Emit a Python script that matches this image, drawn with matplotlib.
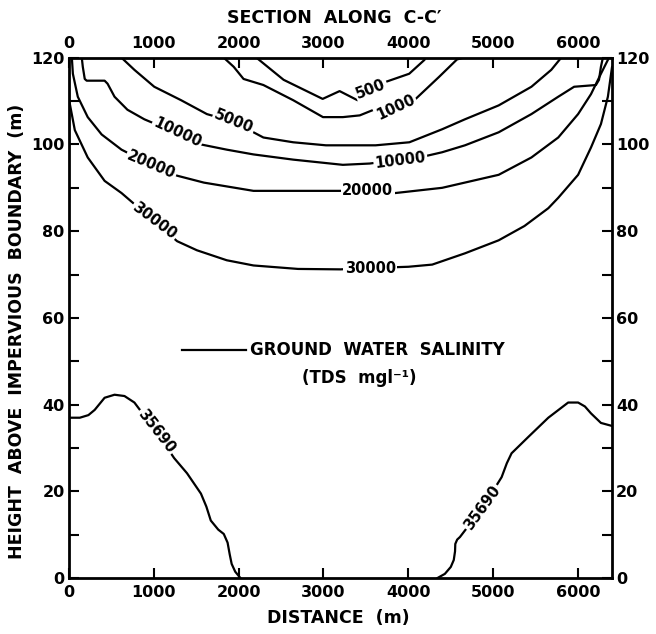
import matplotlib
matplotlib.use('Agg')
import matplotlib.pyplot as plt
from matplotlib.ticker import MultipleLocator

# salinity contours (TDS mg/l): distance along section (m) vs height (m)
c500_x = [2210, 2530, 2990, 3090, 3190, 3260, 3400, 3540, 3730, 4010, 4190, 4200]
c500_y = [120, 114.9, 110.5, 111.4, 112.3, 111.6, 110.2, 112.3, 114.4, 116.3, 119.5, 120]

c1000_x = [1825, 1942, 2058, 2292, 2643, 2994, 3228, 3427, 3579, 3850, 4070, 4363, 4573, 4650]
c1000_y = [120, 117.9, 115.1, 113.7, 110.2, 106.3, 106.3, 106.7, 107.9, 109.0, 110.2, 115.6, 119.6, 120]

c5000_x = [620, 772, 1006, 1322, 1626, 1942, 2292, 2643, 3029, 3614, 4012, 4398, 4667, 5064, 5450, 5684, 5801]
c5000_y = [120, 117.2, 113.3, 110.2, 107, 105.2, 101.6, 100.5, 99.8, 99.8, 100.5, 103.5, 105.8, 109, 113.3, 117.2, 120]

c10000_x = [152, 164, 187, 210, 421, 456, 538, 690, 889, 1275, 1556, 1860, 2175, 2643, 3228, 3544, 3906,
            4199, 4398, 4667, 5064, 5450, 5766, 5953, 6210, 6246, 6269, 6292]
c10000_y = [120, 117.9, 115.1, 114.7, 114.7, 114, 111, 108, 105.8, 102.6, 100, 98.8, 97.7, 96.5, 95.3, 95.6, 96.5,
            97.3, 98.2, 99.8, 102.8, 107, 111, 113.3, 113.7, 114.9, 117.9, 120]

c20000_x = [35, 47, 105, 222, 386, 620, 970, 1275, 1591, 2175, 3146, 3520, 3848, 4398, 5064, 5450, 5766,
            6000, 6152, 6269, 6351, 6360]
c20000_y = [120, 116.3, 111, 106.3, 102.3, 98.8, 95.3, 92.8, 91.2, 89.3, 89.3, 89.3, 88.8, 90, 93, 97, 101.6,
            107, 111.6, 116.3, 119.5, 120]

c30000_x = [0, 70, 222, 421, 620, 1006, 1275, 1509, 1860, 2175, 2700, 3200, 3550, 4000, 4281, 4667, 5064,
            5368, 5649, 5766, 6000, 6152, 6269, 6351, 6400]
c30000_y = [110.5, 103.3, 97, 91.6, 88.8, 82.3, 77.7, 75.6, 73.3, 72.1, 71.3, 71.2, 71.5, 71.8, 72.3, 74.9, 77.9,
            81.2, 85.3, 87.7, 93, 99.3, 104.7, 111, 117.9]

c35690_left_x = [0, 129, 230, 304, 421, 538, 655, 772, 1029, 1240, 1392, 1556, 1620, 1672, 1760, 1825, 1870,
                 1895, 1918, 1960, 2023]
c35690_left_y = [37, 37, 37.6, 38.8, 41.6, 42.3, 42, 40.5, 33.8, 27.7, 24.2, 19.5, 16.5, 13.3, 11.2, 10.2, 8.2,
                 5.5, 3.3, 1.5, 0]

c35690_right_x = [4339, 4430, 4500, 4535, 4550, 4553, 4575, 4608, 4889, 5099, 5160, 5216, 5415, 5649, 5883,
                  6000, 6080, 6152, 6269, 6400]
c35690_right_y = [0, 1.0, 2.6, 4.2, 6.2, 7.9, 8.9, 9.5, 16.7, 23.3, 26.5, 28.8, 32.6, 37, 40.5,
                  40.5, 39.6, 38, 35.8, 35.1]

x_ticks = [0, 1000, 2000, 3000, 4000, 5000, 6000]
y_ticks = [0, 20, 40, 60, 80, 100, 120]

plt.rcParams['font.family'] = ['DejaVu Sans']
plt.rcParams['font.weight'] = 'bold'

fig = plt.figure(figsize=(6.56, 6.34), dpi=100)
ax = fig.add_axes([0.105, 0.088, 0.828, 0.821])

curves = [
    (c500_x, c500_y), (c1000_x, c1000_y), (c5000_x, c5000_y), (c10000_x, c10000_y),
    (c20000_x, c20000_y), (c30000_x, c30000_y),
    (c35690_left_x, c35690_left_y), (c35690_right_x, c35690_right_y),
]
for xs, ys in curves:
    ax.plot(xs, ys, color='black', lw=1.6, solid_joinstyle='round', solid_capstyle='round')

# inline contour labels: text, x, y, rotation
labels = [
    ('500', 3560, 112.8, 21),
    ('1000', 3850, 108.6, 25),
    ('5000', 1942, 105.2, -22),
    ('10000', 1275, 102.6, -25),
    ('10000', 3906, 96.4, 7),
    ('20000', 970, 95.3, -23),
    ('20000', 3520, 89.3, 0),
    ('30000', 1006, 82.3, -37),
    ('30000', 3550, 71.5, 0),
    ('35690', 1029, 33.8, -52),
    ('35690', 4870, 16.3, 54),
]
for txt, x, y, rot in labels:
    ax.text(x, y, txt, rotation=rot, rotation_mode='anchor', ha='center', va='center',
            fontsize=10.5, fontweight='bold',
            bbox=dict(facecolor='white', edgecolor='none', pad=1.0))

# legend inside the plot
ax.plot([0.208, 0.326], [0.438, 0.438], color='black', lw=1.6, transform=ax.transAxes)
ax.text(0.334, 0.438, 'GROUND  WATER  SALINITY', transform=ax.transAxes,
        ha='left', va='center', fontsize=12, fontweight='bold')
ax.text(0.535, 0.385, '(TDS  mgl\u207b\u00b9)', transform=ax.transAxes,
        ha='center', va='center', fontsize=12, fontweight='bold')

ax.set_xlim(0, 6400)
ax.set_ylim(0, 120)
ax.set_xticks(x_ticks)
ax.set_yticks(y_ticks)
ax.yaxis.set_minor_locator(MultipleLocator(10))
ax.tick_params(which='both', direction='in', top=True, right=True, labeltop=True, labelright=True,
               length=7, width=1.5, labelsize=11.5, pad=5)
ax.tick_params(axis='y', which='major', pad=3)
for lab in ax.get_xticklabels() + ax.get_yticklabels():
    lab.set_fontweight('bold')
for s in ax.spines.values():
    s.set_linewidth(2)

fig.text(0.51, 0.972, 'SECTION  ALONG  C-C\u2032', ha='center', va='center', fontsize=12.5, fontweight='bold')
fig.text(0.515, 0.025, 'DISTANCE  (m)', ha='center', va='center', fontsize=12.5, fontweight='bold')
fig.text(0.026, 0.478, 'HEIGHT  ABOVE  IMPERVIOUS  BOUNDARY  (m)', rotation=90, ha='center', va='center',
         fontsize=12.5, fontweight='bold')

fig.savefig('out.png', dpi=100, facecolor='white')
